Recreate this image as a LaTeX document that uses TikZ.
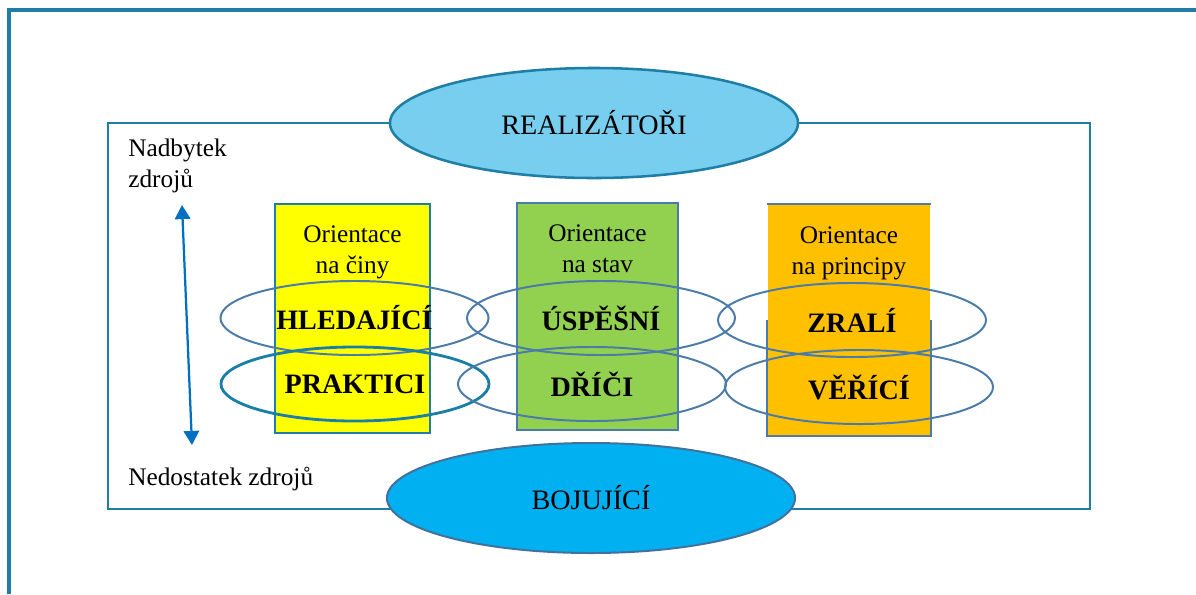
\documentclass[tikz,border=0pt]{standalone}
\usepackage{fontspec}
\setmainfont{Liberation Serif}
\usepackage{tikz}
\usetikzlibrary{arrows.meta}
\usetikzlibrary{shapes.geometric}
\usetikzlibrary{positioning}

\definecolor{frameblue}{HTML}{1F7EA6}
\definecolor{ringblue}{HTML}{4A7BA9}
\definecolor{practeal}{HTML}{1A7FA6}
\definecolor{realfill}{HTML}{77CEEF}
\definecolor{bojfill}{HTML}{00B0F0}
\definecolor{bojline}{HTML}{41719C}
\definecolor{colyellow}{HTML}{FFFF00}
\definecolor{colgreen}{HTML}{92D050}
\definecolor{colorange}{HTML}{FFC000}
\definecolor{arrowblue}{HTML}{0070C0}

\begin{document}
\begin{tikzpicture}[x=0.025cm, y=-0.025cm, >={Triangle[width=11pt,length=10pt]}]
  \tikzstyle{big oval}=[ellipse, minimum width=10.2cm, minimum height=2.75cm, inner sep=0pt, font=\fontsize{20}{24}\selectfont]
  \tikzstyle{ring}=[ellipse, draw=ringblue, line width=1.4pt, minimum width=6.7cm, minimum height=1.85cm, inner sep=0pt, font=\fontsize{20}{24}\selectfont\bfseries]
  \tikzstyle{column}=[rectangle, inner sep=0pt, line width=1.2pt]
  \tikzstyle{small}=[font=\fontsize{18}{22}\selectfont, inner sep=0pt]

  \useasboundingbox (0,0) rectangle (1196,594);

  % frames
  \draw[frameblue, line width=2.3pt] (9,594) -- (9,10) -- (1196,10);
  \draw[frameblue, line width=2.1pt] (108,123) rectangle (1090,509);

  % the three columns
  \node[column, fill=colyellow, draw=frameblue, minimum width=3.875cm, minimum height=5.725cm] (yel) at (352.5,318.5) {};
  \node[column, fill=colgreen, draw=ringblue, minimum width=4.025cm, minimum height=5.675cm] (grn) at (597.5,316.5) {};
  \node[column, fill=colorange, minimum width=4.05cm, minimum height=5.75cm] (org) at (849,320) {};
  \draw[ringblue, line width=1.2pt] (org.north west) -- (org.north east)
    (org.west) -- (org.south west) -- (org.south east) -- (org.east);

  \node[small, align=center, below=16pt of yel.north] (yeltxt) {Orientace\\na činy};
  \node[small, align=center, below=16pt of grn.north] (grntxt) {Orientace\\na stav};
  \node[small, align=center, below=16pt of org.north] (orgtxt) {Orientace\\na principy};

  % rings
  \node[ring] (hled) at (354.5,318) {HLEDAJÍCÍ};
  \node[ring, draw=practeal, line width=2pt] (prak) at (355,384) {PRAKTICI};
  \node[ring] (uspe) at (601,318) {ÚSPĚŠNÍ};
  \node[ring] (drici) at (592,384) {DŘÍČI};
  \node[ring] (zral) at (852,320) {ZRALÍ};
  \node[ring] (veri) at (859,387) {VĚŘÍCÍ};

  % top and bottom
  \node[big oval, fill=realfill, draw=frameblue, line width=1.8pt] (real) at (594,123) {REALIZÁTOŘI};
  \node[big oval, fill=bojfill, draw=bojline, line width=1.4pt] (boj) at (591,498) {BOJUJÍCÍ};

  % resources axis
  \node[small, align=left, anchor=north west] (plenty) at (128,139) {Nadbytek\\zdrojů};
  \node[small, anchor=base west] (scarce) at (128,485) {Nedostatek zdrojů};
  \coordinate (up) at (182,205);
  \coordinate (down) at (192,445);
  \draw[<->, arrowblue, line width=1.6pt] (up) -- (down);
\end{tikzpicture}
\end{document}
